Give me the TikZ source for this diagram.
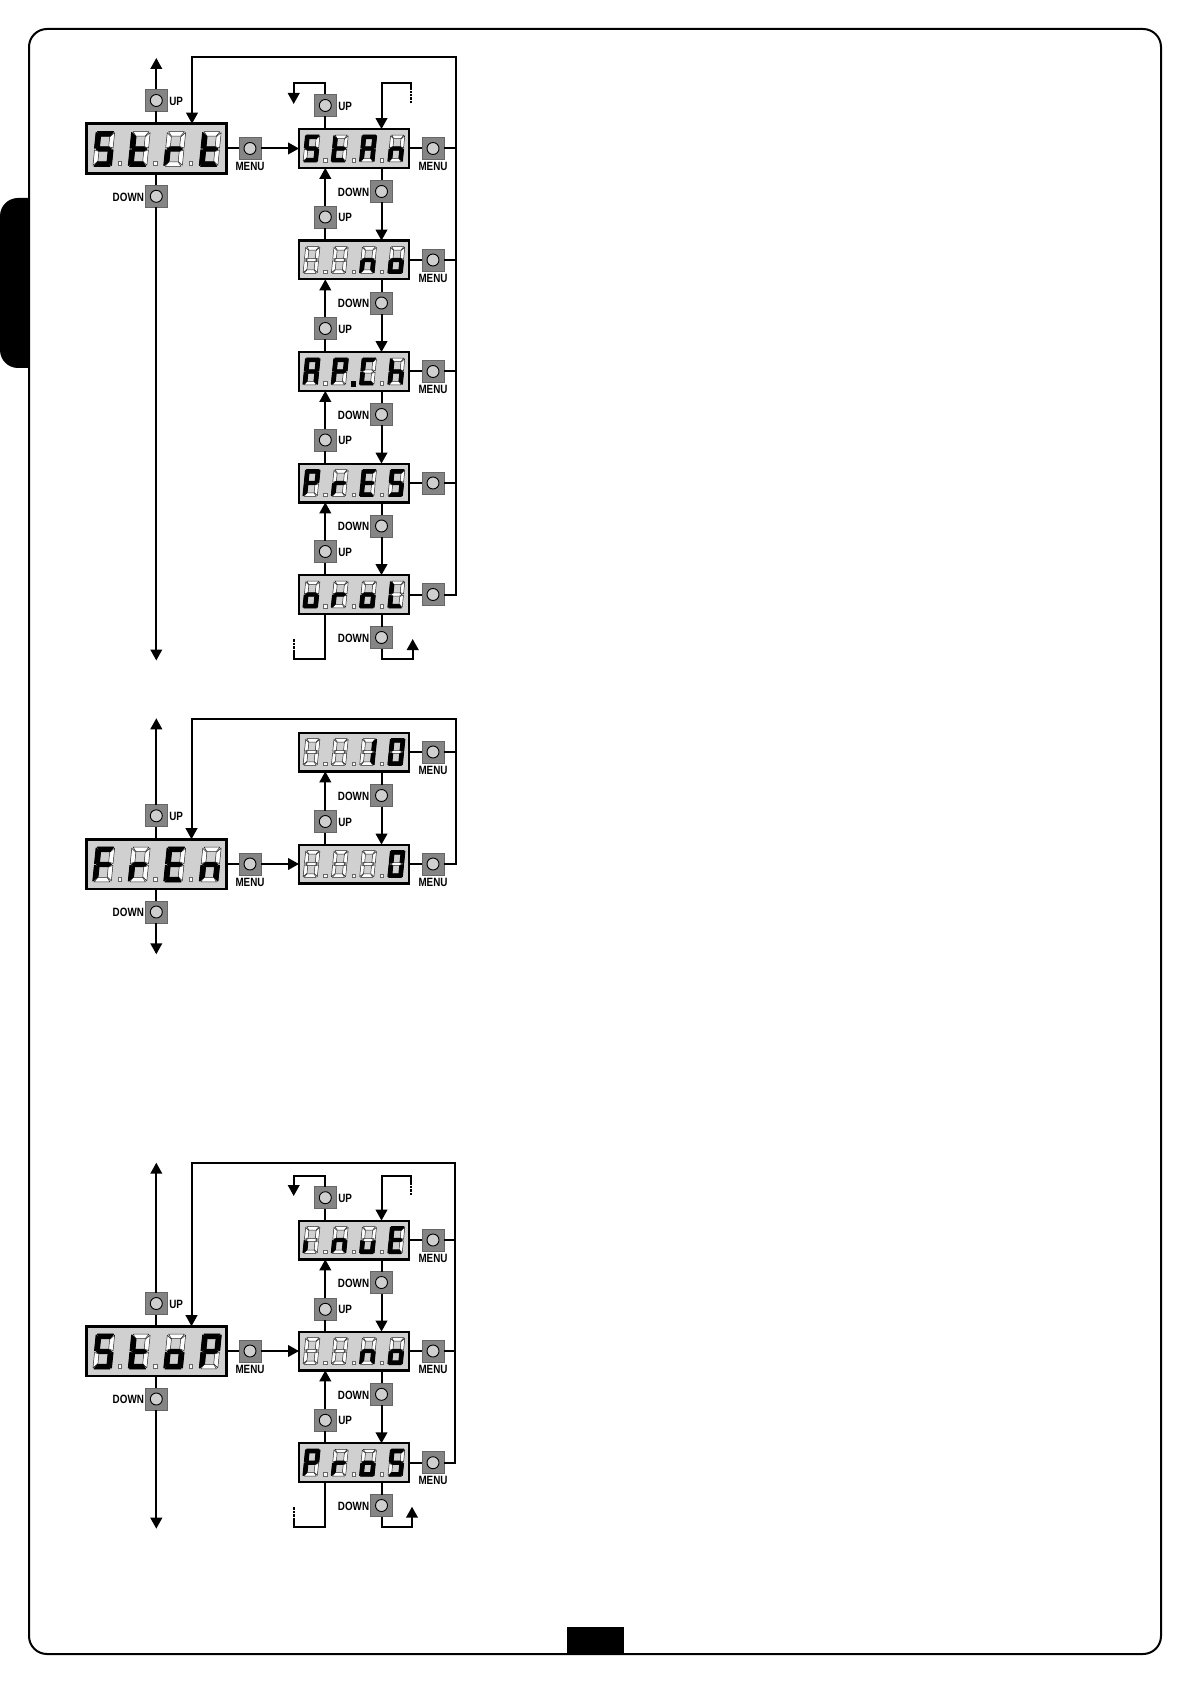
\documentclass[tikz,border=0pt]{standalone}
\usepackage{fontspec}
\setmainfont{Liberation Sans}[FakeStretch=0.82]
\usetikzlibrary{arrows.meta,calc}
\definecolor{boxgrey}{HTML}{D0D0D0}
\definecolor{btngrey}{HTML}{858585}
\definecolor{btnedge}{HTML}{666666}
\definecolor{capgrey}{HTML}{CFCFCF}
% segments in a local grid, y downward
\def\dsa{(-5.9,-13)--(5.9,-13)--(3.5,-9.7)--(-3.5,-9.7)--cycle}
\def\dsb{(6.9,-12.3)--(6.9,-0.7)--(3.5,-1.9)--(3.5,-9.1)--cycle}
\def\dsc{(6.9,12.3)--(6.9,0.7)--(3.5,1.9)--(3.5,9.1)--cycle}
\def\dsd{(-5.9,13)--(5.9,13)--(3.5,9.7)--(-3.5,9.7)--cycle}
\def\dse{(-6.9,12.3)--(-6.9,0.7)--(-3.5,1.9)--(-3.5,9.1)--cycle}
\def\dsf{(-6.9,-12.3)--(-6.9,-0.7)--(-3.5,-1.9)--(-3.5,-9.1)--cycle}
\def\dsg{(-3.1,-1.5)--(3.1,-1.5)--(5.6,0)--(3.1,1.5)--(-3.1,1.5)--(-5.6,0)--cycle}
\def\dsx{}
\def\glS{a,f,g,c,d}\def\glT{f,g,e,d}\def\glR{e,g}\def\glA{a,b,c,e,f,g}
\def\glN{c,e,g}\def\glO{c,d,e,g}\def\glP{a,b,e,f,g}\def\glC{a,f,e,d}
\def\glH{f,e,g,c}\def\glE{a,f,g,e,d}\def\glL{f,e,d}\def\glI{e}
\def\glU{c,d,e}\def\glF{a,f,g,e}\def\glOne{b,c}\def\glZero{a,b,c,d,e,f}\def\glX{x}
\newcommand\dgt[4]{\begin{scope}[shift={(#1,#2)},xslant=.1,scale=#3]
  \foreach \gs in {a,b,c,d,e,f,g}{\edef\gp{\noexpand\draw[unlit] \csname ds\gs\endcsname;}\gp}
  \foreach \gs in #4{\edef\gp{\noexpand\draw[lit] \csname ds\gs\endcsname;}\gp}
\end{scope}}
% big display: name, cy, four letters
\newcommand\bigdisp[6]{\node[bigbox] (#1) at (156.3,#2) {};
  \dgt{103.8}{#2+0.5}{1.33}{#3}\dgt{139.3}{#2+0.5}{1.33}{#4}\dgt{174.8}{#2+0.5}{1.33}{#5}\dgt{210.3}{#2+0.5}{1.33}{#6}
  \foreach \gi in {0,1,2}{\node[dot] at (119.8+35.5*\gi,#2+15) {};}}
% small display: name, cy, four letters
\newcommand\smalldisp[6]{\node[smallbox] (#1) at (354,#2) {};
  \dgt{311.5}{#2}{1.03}{#3}\dgt{339.8}{#2}{1.03}{#4}\dgt{368.1}{#2}{1.03}{#5}\dgt{396.4}{#2}{1.03}{#6}
  \foreach \gi in {0,1,2}{\node[dot] at (325.3+28.3*\gi,#2+11.7) {};}}
\newcommand\btnplain[3]{\node[btnbox] (#1) at (#2,#3) {};}
\newcommand\btnup[3]{\btnplain{#1}{#2}{#3}\node[lbl,anchor=west] (#1l) at ([xshift=1pt,yshift=-.3pt]#1.east) {UP};}
\newcommand\btndown[3]{\btnplain{#1}{#2}{#3}\node[lbl,anchor=east] (#1l) at ([xshift=-.7pt,yshift=-.3pt]#1.west) {DOWN};}
\newcommand\btnmenu[3]{\btnplain{#1}{#2}{#3}\node[lbl] (#1l) at ([yshift=-9pt]#1.center) {MENU};}
% link between two stacked displays: upper, lower, down button, up button
\newcommand\stacklink[4]{%
  \draw[conn] (#1.south -| #3) -- (#3.north);
  \draw[arr] (#3.south) -- (#3.south |- #2.north);
  \draw[conn] (#2.north -| #4) -- (#4.south);
  \draw[arr] (#4.north) -- (#4.north |- #1.south);}
\begin{document}
\begin{tikzpicture}[x=.5pt,y=-.5pt,
  bigbox/.style={draw=black,line width=1.3pt,fill=boxgrey,minimum width=70pt,minimum height=24.8pt,inner sep=0pt,outer sep=0pt},
  smallbox/.style={draw=black,line width=1.1pt,fill=boxgrey,minimum width=55pt,minimum height=19.4pt,inner sep=0pt,outer sep=0pt},
  btnbox/.style={draw=btnedge,line width=.4pt,fill=btngrey,minimum size=11pt,inner sep=0pt,outer sep=0pt,
    path picture={\draw[black,line width=.45pt,fill=capgrey] (path picture bounding box.center) circle[radius=3pt];}},
  lbl/.style={font=\fontsize{6}{6.5}\selectfont\bfseries,inner sep=0pt,outer sep=0pt},
  dot/.style={draw=black!60,line width=.25pt,fill=white,minimum size=1.8pt,inner sep=0pt,outer sep=0pt},
  unlit/.style={draw=black!85,line width=.25pt,fill=white,line join=round},
  lit/.style={draw=black,line width=.6pt,fill=black,line join=round},
  conn/.style={line width=1pt,draw=black},
  arr/.style={conn,-{Triangle[length=5.5pt,width=5.8pt]}},
  dsh/.style={line width=1pt,draw=black,dash pattern=on 1.2pt off .5pt}]
\useasboundingbox (0,0) rectangle (1191,1684);
% page frame and black marks
\fill[black] (29,198) [rounded corners=9pt] -- (0,198) -- (0,368) [sharp corners] -- (29,368) -- cycle;
\draw[line width=1pt,rounded corners=9pt] (29,29) rectangle (1161,1654);
\fill[black] (567,1627) rectangle (624,1654);

% ---------------- first diagram
\bigdisp{strt}{148.5}{\glS}{\glT}{\glR}{\glT}
\smalldisp{stan}{148.5}{\glS}{\glT}{\glA}{\glN}
\smalldisp{rno}{260}{\glX}{\glX}{\glN}{\glO}
\smalldisp{apch}{371.5}{\glA}{\glP}{\glC}{\glH}
\smalldisp{pres}{483}{\glP}{\glR}{\glE}{\glS}
\smalldisp{orol}{594.5}{\glO}{\glR}{\glO}{\glL}
\node[fill=black,minimum size=2.6pt,inner sep=0pt] (apdot) at (353.3,384) {};
\btnup{ua}{156.3}{100.5}
\btndown{da}{156.3}{196.3}
\btnmenu{ma}{250}{148.5}
\btnup{u1}{325.3}{105.5}
\btnup{u2}{325.3}{217}
\btnup{u3}{325.3}{328.5}
\btnup{u4}{325.3}{440}
\btnup{u5}{325.3}{551.5}
\btndown{d1}{381.5}{191.5}
\btndown{d2}{381.5}{303}
\btndown{d3}{381.5}{414.5}
\btndown{d4}{381.5}{526}
\btndown{d5}{381.5}{637.5}
\btnmenu{m1}{433}{148.5}
\btnmenu{m2}{433}{260}
\btnmenu{m3}{433}{371.5}
\btnplain{m4}{433}{483}
\btnplain{m5}{433}{594.5}
\coordinate (atop) at (156.3,58);
\coordinate (abot) at (156.3,660.5);
\coordinate (atr) at (456,56.7);
\coordinate (atl) at (192,56.7);
\coordinate (a1) at (293.7,83.3);
\coordinate (a1e) at (293.7,104);
\coordinate (b1) at (411,83.3);
\coordinate (b1m) at (411,90);
\coordinate (b1e) at (411,103.3);
\coordinate (c1) at (293.7,659.3);
\coordinate (c1m) at (293.7,652);
\coordinate (c1e) at (293.7,639.3);
\coordinate (e1) at (412.7,659.3);
\coordinate (e1e) at (412.7,639);
\draw[conn] (strt.north -| ua) -- (ua.south);
\draw[arr] (ua.north) -- (atop);
\draw[conn] (strt.south -| da) -- (da.north);
\draw[arr] (da.south) -- (abot);
\draw[conn] (strt.east) -- (ma.west);
\draw[arr] (ma.east) -- (stan.west);
\foreach \gb/\gm in {stan/m1,rno/m2,apch/m3,pres/m4,orol/m5}{\draw[conn] (\gb.east) -- (\gm.west);}
\foreach \gm in {m1,m2,m3,m4}{\draw[conn] (\gm.east) -- (\gm.east -| atr);}
\draw[arr] (m5.east) -| (atr) -- (atl) -- (atl |- strt.north);
\draw[conn] (stan.north -| u1) -- (u1.south);
\draw[arr] (u1.north) |- (a1) -- (a1e);
\draw[dsh] (b1e) -- (b1m);
\draw[arr] (b1m) -- (b1) -- (b1 -| d1) -- (stan.north -| d1);
\stacklink{stan}{rno}{d1}{u2}
\stacklink{rno}{apch}{d2}{u3}
\stacklink{apch}{pres}{d3}{u4}
\stacklink{pres}{orol}{d4}{u5}
\draw[conn] (orol.south -| u5) -- (u5 |- c1) -- (c1) -- (c1m);
\draw[dsh] (c1m) -- (c1e);
\draw[conn] (orol.south -| d5) -- (d5.north);
\draw[arr] (d5.south) |- (e1) -- (e1e);

% ---------------- second diagram
\bigdisp{fren}{864}{\glF}{\glR}{\glE}{\glN}
\smalldisp{ften}{752}{\glX}{\glX}{\glOne}{\glZero}
\smalldisp{fzero}{864}{\glX}{\glX}{\glX}{\glZero}
\btnup{ub}{156.3}{815.8}
\btndown{db}{156.3}{912}
\btnmenu{mb}{250}{864}
\btndown{d6}{381.5}{795.5}
\btnup{u6}{325.3}{821.5}
\btnmenu{m6}{433}{752}
\btnmenu{m7}{433}{864}
\coordinate (btop) at (156.3,718.3);
\coordinate (bbot) at (156.3,954.3);
\coordinate (btr) at (456,719);
\coordinate (btl) at (191.5,719);
\draw[conn] (fren.north -| ub) -- (ub.south);
\draw[arr] (ub.north) -- (btop);
\draw[conn] (fren.south -| db) -- (db.north);
\draw[arr] (db.south) -- (bbot);
\draw[conn] (fren.east) -- (mb.west);
\draw[arr] (mb.east) -- (fzero.west);
\draw[conn] (ften.east) -- (m6.west);
\draw[conn] (fzero.east) -- (m7.west);
\draw[conn] (m6.east) -- (m6.east -| btr);
\draw[arr] (m7.east) -| (btr) -- (btl) -- (btl |- fren.north);
\stacklink{ften}{fzero}{d6}{u6}

% ---------------- third diagram
\bigdisp{stop}{1351}{\glS}{\glT}{\glO}{\glP}
\smalldisp{inue}{1240}{\glI}{\glN}{\glU}{\glE}
\smalldisp{sno}{1351}{\glX}{\glX}{\glN}{\glO}
\smalldisp{pros}{1462.7}{\glP}{\glR}{\glO}{\glS}
\btnup{uc}{156.3}{1303.5}
\btndown{dc}{156.3}{1399}
\btnmenu{mc}{250}{1351}
\btnup{u7}{325.3}{1197.7}
\btnup{u8}{325.3}{1309.3}
\btnup{u9}{325.3}{1420.3}
\btndown{d7}{381.5}{1282.5}
\btndown{d8}{381.5}{1394.3}
\btndown{d9}{381.5}{1505.5}
\btnmenu{m8}{433}{1240}
\btnmenu{m9}{433}{1351}
\btnmenu{m10}{433}{1462.7}
\coordinate (ctop) at (156.3,1162.7);
\coordinate (cbot) at (156.3,1528.7);
\coordinate (ctr) at (455,1163.3);
\coordinate (ctl) at (191.5,1163.3);
\coordinate (f1) at (293.7,1175.7);
\coordinate (f1e) at (293.7,1196);
\coordinate (g1) at (411,1175.7);
\coordinate (g1m) at (411,1182);
\coordinate (g1e) at (411,1195);
\coordinate (h1) at (293.7,1527.3);
\coordinate (h1m) at (293.7,1520);
\coordinate (h1e) at (293.7,1507.3);
\coordinate (k1) at (412,1527.3);
\coordinate (k1e) at (412,1506.7);
\draw[conn] (stop.north -| uc) -- (uc.south);
\draw[arr] (uc.north) -- (ctop);
\draw[conn] (stop.south -| dc) -- (dc.north);
\draw[arr] (dc.south) -- (cbot);
\draw[conn] (stop.east) -- (mc.west);
\draw[arr] (mc.east) -- (sno.west);
\foreach \gb/\gm in {inue/m8,sno/m9,pros/m10}{\draw[conn] (\gb.east) -- (\gm.west);}
\foreach \gm in {m8,m9}{\draw[conn] (\gm.east) -- (\gm.east -| ctr);}
\draw[arr] (m10.east) -| (ctr) -- (ctl) -- (ctl |- stop.north);
\draw[conn] (inue.north -| u7) -- (u7.south);
\draw[arr] (u7.north) |- (f1) -- (f1e);
\draw[dsh] (g1e) -- (g1m);
\draw[arr] (g1m) -- (g1) -- (g1 -| d7) -- (inue.north -| d7);
\stacklink{inue}{sno}{d7}{u8}
\stacklink{sno}{pros}{d8}{u9}
\draw[conn] (pros.south -| u9) -- (u9 |- h1) -- (h1) -- (h1m);
\draw[dsh] (h1m) -- (h1e);
\draw[conn] (pros.south -| d9) -- (d9.north);
\draw[arr] (d9.south) |- (k1) -- (k1e);
\end{tikzpicture}
\end{document}
